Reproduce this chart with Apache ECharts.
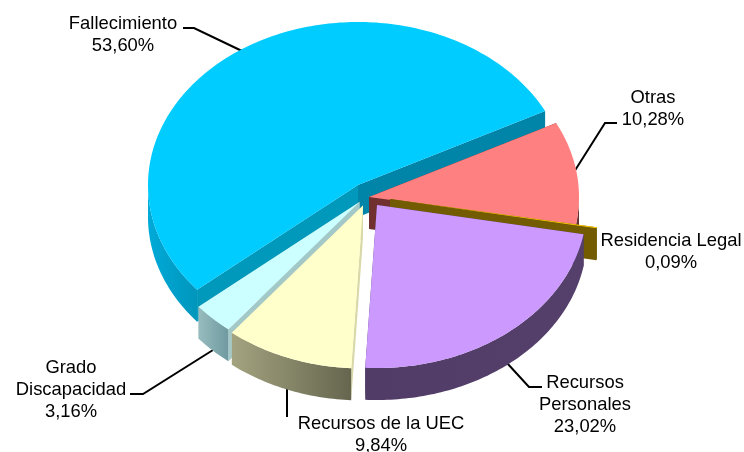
<!DOCTYPE html>
<html>
<head>
<meta charset="utf-8">
<script src="https://cdn.jsdelivr.net/npm/echarts@6/dist/echarts.min.js"></script>
<style>
  html, body { margin: 0; padding: 0; background: #fff; }
  #chart { width: 744px; height: 452px; }
</style>
</head>
<body>
<div id="chart"></div>
<script>
// data, in drawing order clockwise from the top edge of Fallecimiento
var categories = ["Otras", "Residencia Legal", "Recursos\nPersonales", "Recursos de la UEC", "Grado\nDiscapacidad", "Fallecimiento"];
var shares = [10.28, 0.09, 23.02, 9.84, 3.16, 53.60];

// 3d look
var cx = 358, cy = 185, rx = 210, ry = 163, depth = 32;
var startAngle = 27;
var explode = [[11, 12], [32, 14], [19, 20], [5, 20.5], [1.5, 17], [0, 0]];
var topColors = ["#ff8080", "#ffcc00", "#cc99ff", "#ffffcc", "#ccffff", "#00ccff"];
// wall of the first and of the second straight edge of each slice
var cutColors = [
  ["#70302f", "#70302f"],
  ["#725b00", "#725b00"],
  ["#523d66", "#523d66"],
  ["#d8d8a8", "#d8d8a8"],
  ["#a3c8c8", "#a3c8c8"],
  ["#0099bb", "#0084a8"]
];
var wallColors = [
  ["#7f4040", "#5a2d2d"],
  ["#725b00", "#725b00"],
  ["#503c66", "#55406b"],
  ["#a3a380", "#66664f"],
  ["#98bcbe", "#6f9aa0"],
  ["#00aad8", "#0096bc"]
];
var labelPos = [[653, 109], [671, 252], [585, 405], [381, 435], [71, 390], [123, 35]];
var labelLines = [
  [[617, 123], [605, 123], [574, 172]],
  null,
  [[542, 387], [529, 387], [507, 363]],
  [[287, 389], [287, 417]],
  [[130, 394], [143, 394], [213, 350]],
  [[183, 28], [194, 28], [242, 51]]
];

function pt(ox, oy, deg) {
  var t = deg * Math.PI / 180;
  return [ox + rx * Math.cos(t), oy - ry * Math.sin(t)];
}

function arc(ox, oy, from, to) {
  var pts = [], n = Math.max(2, Math.ceil(Math.abs(to - from)));
  for (var i = 0; i <= n; i++) {
    pts.push(pt(ox, oy, from + (to - from) * i / n));
  }
  return pts;
}

function shifted(pts) {
  return pts.map(function (p) { return [p[0], p[1] + depth]; });
}

function renderSlice(i, api) {
  var before = 0;
  for (var k = 0; k < i; k++) before += shares[k];
  var total = shares.reduce(function (a, b) { return a + b; }, 0);
  var a0 = startAngle - before / total * 360;
  var a1 = a0 - api.value(1) / total * 360;
  var ox = cx + explode[i][0], oy = cy + explode[i][1];
  var apex = [ox, oy];
  var outer = arc(ox, oy, a0, a1);
  var first = outer[0], last = outer[outer.length - 1];

  var cut1 = [apex, first, [first[0], first[1] + depth], [apex[0], apex[1] + depth]];
  var cut2 = [apex, last, [last[0], last[1] + depth], [apex[0], apex[1] + depth]];
  var children = [
    { type: "polygon", shape: { points: cut1 }, style: { fill: cutColors[i][0] } },
    { type: "polygon", shape: { points: cut2 }, style: { fill: cutColors[i][1] } }
  ];

  // only the front of the rim can be seen
  var front = outer.filter(function (p) { return p[1] >= oy; });
  if (front.length > 1) {
    var xs = front.map(function (p) { return p[0]; });
    children.push({
      type: "polygon",
      shape: { points: front.concat(shifted(front).reverse()) },
      style: {
        fill: {
          type: "linear", global: true,
          x: Math.min.apply(null, xs), y: 0, x2: Math.max.apply(null, xs), y2: 0,
          colorStops: [
            { offset: 0, color: wallColors[i][0] },
            { offset: 1, color: wallColors[i][1] }
          ]
        }
      }
    });
  }
  children.push({ type: "polygon", shape: { points: [apex].concat(outer) }, style: { fill: topColors[i] } });
  return { type: "group", children: children };
}

// blue slice lies behind everything, so it goes first
var order = [5, 0, 1, 4, 3, 2];
var sliceData = order.map(function (i) { return [i, shares[i]]; });

function renderOrdered(params, api) {
  return renderSlice(api.value(0), api);
}

var graphics = [];
categories.forEach(function (name, i) {
  graphics.push({
    type: "text",
    x: labelPos[i][0],
    y: labelPos[i][1],
    silent: true,
    style: {
      text: name + "\n" + shares[i].toFixed(2).replace(".", ",") + "%",
      font: '18.4px "Liberation Sans", Arial, sans-serif',
      lineHeight: 22,
      fill: "#000",
      align: "center",
      verticalAlign: "middle"
    }
  });
  if (labelLines[i]) {
    graphics.push({
      type: "polyline",
      silent: true,
      shape: { points: labelLines[i] },
      style: { stroke: "#000", lineWidth: 2, fill: null }
    });
  }
});

var myChart = echarts.init(document.getElementById("chart"));
var option = {
  animation: false,
  backgroundColor: "#fff",
  series: [{
    type: "custom",
    coordinateSystem: "none",
    silent: true,
    renderItem: renderOrdered,
    data: sliceData
  }],
  graphic: graphics
};
myChart.setOption(option);
</script>
</body>
</html>
